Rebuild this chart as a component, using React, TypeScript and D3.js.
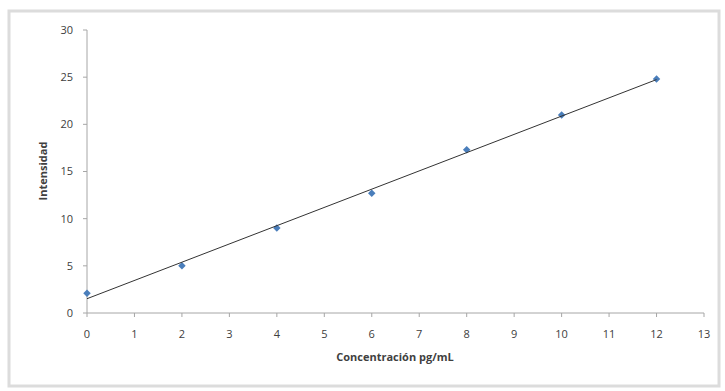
import React from "react";
import * as d3 from "d3";

const concentrations = [0, 2, 4, 6, 8, 10, 12];
const intensities = [2.1, 5.0, 9.0, 12.7, 17.3, 21.0, 24.8];
const xTicks = [0, 1, 2, 3, 4, 5, 6, 7, 8, 9, 10, 11, 12, 13];
const yTicks = [0, 5, 10, 15, 20, 25, 30];
const xTitle = "Concentración pg/mL";
const yTitle = "Intensidad";

export default function App() {
  const W = 725, H = 391;
  const left = 87, right = 704, top = 30, bottom = 313;
  const x = d3.scaleLinear().domain([0, 13]).range([left, right]);
  const y = d3.scaleLinear().domain([0, 30]).range([bottom, top]);

  const mx = d3.mean(concentrations)!;
  const my = d3.mean(intensities)!;
  let sxy = 0, sxx = 0;
  concentrations.forEach((c, i) => {
    sxy += (c - mx) * (intensities[i] - my);
    sxx += (c - mx) * (c - mx);
  });
  const slope = sxy / sxx;
  const intercept = my - slope * mx;
  const x0 = d3.min(concentrations)!, x1 = d3.max(concentrations)!;
  const line = d3.line<number>().x((d) => x(d)).y((d) => y(intercept + slope * d));

  const diamond = d3.symbol().type(d3.symbolSquare).size(28)()!;
  const font = "'Open Sans', 'Liberation Sans', sans-serif";

  return (
    <svg width={W} height={H} style={{ position: "absolute", left: 0, top: 0 }}>
      <rect x={0} y={0} width={W} height={H} fill="#fff" />
      <rect x={9} y={11} width={710} height={375} fill="#fff" stroke="#dcdcdc" strokeWidth={3} />
      {/* y axis */}
      <line x1={left} x2={left} y1={top} y2={bottom} stroke="#a6a6a6" strokeWidth={1} />
      {yTicks.map((t) => (
        <g key={"y" + t}>
          <line x1={left - 4} x2={left} y1={y(t)} y2={y(t)} stroke="#a6a6a6" />
          <text x={left - 14} y={y(t)} dy="0.35em" textAnchor="end" fontSize={11} fill="#404040" fontFamily={font}>
            {t}
          </text>
        </g>
      ))}
      {/* x axis */}
      <line x1={left} x2={right} y1={bottom} y2={bottom} stroke="#a6a6a6" strokeWidth={1} />
      {xTicks.map((t) => (
        <g key={"x" + t}>
          <line x1={x(t)} x2={x(t)} y1={bottom} y2={bottom + 4} stroke="#a6a6a6" />
          <text x={x(t)} y={bottom + 25} textAnchor="middle" fontSize={11} fill="#404040" fontFamily={font}>
            {t}
          </text>
        </g>
      ))}
      <text x={395} y={361} textAnchor="middle" fontSize={11} fontWeight="bold" fill="#404040" fontFamily={font}>
        {xTitle}
      </text>
      <text
        transform={`translate(47,171) rotate(-90)`}
        textAnchor="middle"
        fontSize={11}
        fontWeight="bold"
        fill="#404040"
        fontFamily={font}
      >
        {yTitle}
      </text>
      {concentrations.map((c, i) => (
        <path
          key={"p" + i}
          d={diamond}
          transform={`translate(${x(c)},${y(intensities[i])}) rotate(45)`}
          fill="#4a7ebb"
        />
      ))}
      <path d={line([x0, x1]) || ""} stroke="#333" strokeWidth={1} fill="none" />
    </svg>
  );
}
